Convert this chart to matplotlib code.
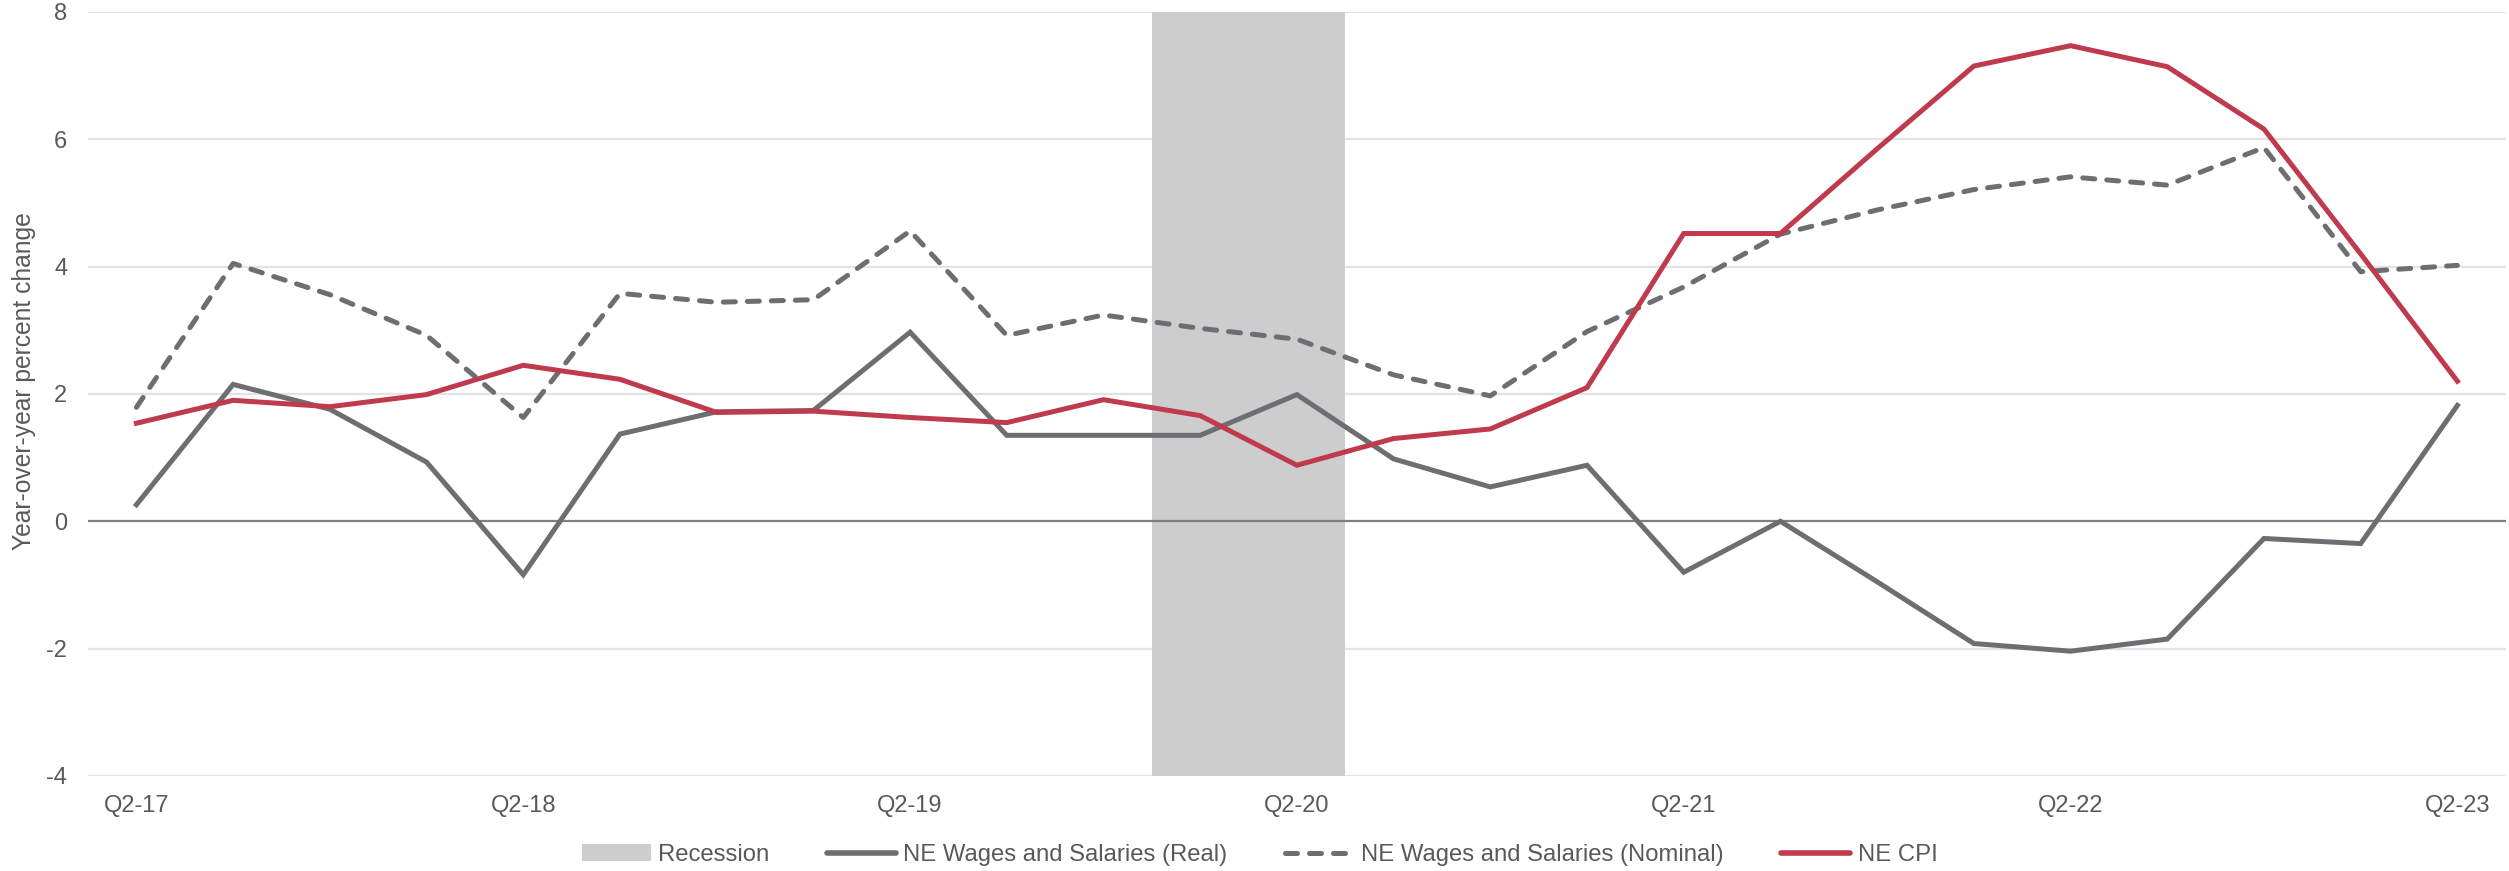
import numpy as np
import matplotlib
matplotlib.use('Agg')
from matplotlib import pyplot as plt
from matplotlib.patches import Patch
from matplotlib.lines import Line2D

plt.rcParams['font.family'] = ['Liberation Sans', 'DejaVu Sans']
plt.rcParams['axes.unicode_minus'] = False

quarters = ['Q2-17', 'Q3-17', 'Q4-17', 'Q1-18', 'Q2-18', 'Q3-18', 'Q4-18', 'Q1-19',
            'Q2-19', 'Q3-19', 'Q4-19', 'Q1-20', 'Q2-20', 'Q3-20', 'Q4-20', 'Q1-21',
            'Q2-21', 'Q3-21', 'Q4-21', 'Q1-22', 'Q2-22', 'Q3-22', 'Q4-22', 'Q1-23',
            'Q2-23']
recession = [0, 0, 0, 0, 0, 0, 0, 0, 0, 0, 0, 1, 1, 0, 0, 0, 0, 0, 0, 0, 0, 0, 0, 0, 0]
wages_real = [0.26, 2.15, 1.76, 0.93, -0.84, 1.37, 1.72, 1.74,
              2.97, 1.35, 1.35, 1.35, 1.99, 0.98, 0.54, 0.88,
              -0.80, 0.0, -0.95, -1.92, -2.04, -1.85, -0.27, -0.35,
              1.82]
wages_nominal = [1.79, 4.05, 3.56, 2.92, 1.63, 3.58, 3.44, 3.48,
                 4.56, 2.92, 3.24, 3.03, 2.86, 2.30, 1.97, 2.98,
                 3.68, 4.51, 4.89, 5.21, 5.41, 5.28, 5.87, 3.92,
                 4.02]
cpi = [1.54, 1.90, 1.80, 1.99, 2.45, 2.23, 1.71, 1.73,
       1.63, 1.55, 1.91, 1.66, 0.88, 1.30, 1.45, 2.10,
       4.52, 4.52, 5.85, 7.15, 7.47, 7.14, 6.16, 4.20,
       2.20]

grey = '#6d6e71'
red = '#be3a4c'
text_c = '#595959'
fs = 17

x = np.arange(len(quarters))
ymin, ymax = -4, 8

fig = plt.figure(figsize=(25.09, 8.71), dpi=100)
ax = fig.add_axes([0.0351, 0.1091, 0.9636, 0.8772])

# recession band
rec = np.array(recession)
ax.bar(x, rec * (ymax - ymin), bottom=ymin, width=1.0, color='#cdcdcd', zorder=1)

ax.plot(x, wages_real, color=grey, lw=3.6, solid_joinstyle='miter', zorder=3)
ax.plot(x, wages_nominal, color=grey, lw=3.6, dashes=(2.4, 2.4),
        dash_capstyle='round', zorder=3)
ax.plot(x, cpi, color=red, lw=3.6, solid_joinstyle='miter', zorder=4)

ax.set_xlim(-0.5, len(quarters) - 0.5)
ax.set_ylim(ymin, ymax)
ax.set_yticks(np.arange(-4, 9, 2))
ax.set_xticks(x[::4])
ax.set_xticklabels(quarters[::4])
for y in np.arange(-4, 9, 2):
    if y != 0:
        ax.axhline(y, color='#e3e3e3', lw=1.6, zorder=0)
ax.axhline(0, color='#7f7f7f', lw=1.6, zorder=2)

for s in ax.spines.values():
    s.set_visible(False)
ax.tick_params(axis='both', length=0, labelsize=fs, colors=text_c)
ax.tick_params(axis='y', pad=15)
ax.tick_params(axis='x', pad=14)
ax.set_ylabel('Year-over-year percent change', fontsize=17.7, color=text_c)
ax.yaxis.set_label_coords(-0.0215, 0.517)

handles = [Patch(facecolor='#cdcdcd', edgecolor='none'),
           Line2D([], [], color=grey, lw=4, solid_capstyle='round'),
           Line2D([], [], color=grey, lw=3.6, dashes=(2.4, 2.4), dash_capstyle='round'),
           Line2D([], [], color=red, lw=4, solid_capstyle='round')]
labels = ['Recession', 'NE Wages and Salaries (Real)',
          'NE Wages and Salaries (Nominal)', 'NE CPI']
leg = fig.legend(handles, labels, loc='center', bbox_to_anchor=(0.502, 0.0184),
                 ncol=4, frameon=False, fontsize=17.2, handlelength=2.9,
                 handletextpad=0.3, columnspacing=2.4, handleheight=0.7)
for t in leg.get_texts():
    t.set_color(text_c)

plt.savefig('out.png', dpi=100)
